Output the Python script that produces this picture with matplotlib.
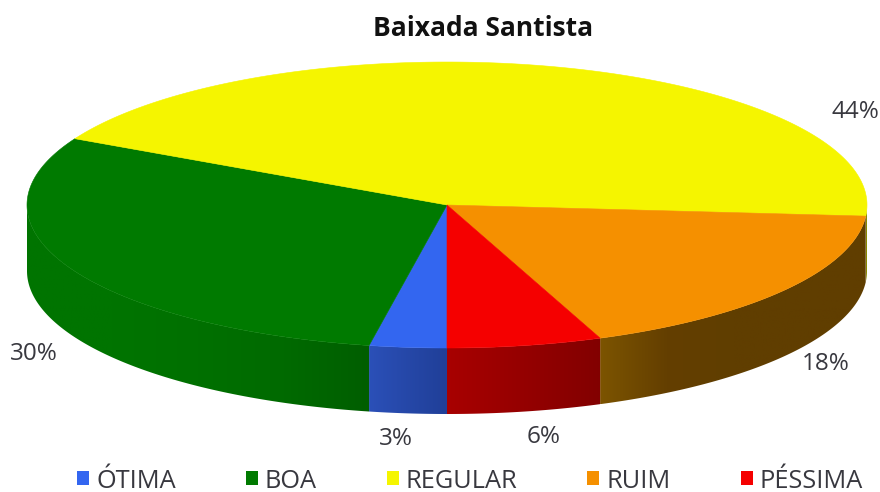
import numpy as np
import matplotlib
matplotlib.use('Agg')
import matplotlib.pyplot as plt
from matplotlib.colors import LinearSegmentedColormap
from matplotlib.patches import Patch, Polygon

# Dados do gráfico
categorias = ["ÓTIMA", "BOA", "REGULAR", "RUIM", "PÉSSIMA"]
percentuais = [3, 30, 44, 18, 6]

# Cores: topo e lateral (da esquerda para a direita)
cores_topo = ["#3366F0", "#007A00", "#F5F500", "#F59000", "#F50000"]
cores_lateral = [
    ["#2B50B8", "#203F98"],
    ["#007400", "#007400", "#007000", "#006A00", "#005E00"],
    ["#8A8A00", "#8A8A00"],
    ["#7C5400", "#643F00", "#603E00", "#603E00", "#603E00"],
    ["#A80000", "#820000"],
]

# Posição dos rótulos de porcentagem, na ordem das categorias
pos_rotulos = [(396, 439), (34, 354), (855, 112), (826, 364), (544, 437)]

# Geometria da pizza em pixels
cx, cy = 447, 205
rx, ry = 420, 143
prof = 66

plt.rcParams['font.family'] = 'Open Sans'
fig = plt.figure(figsize=(8.8, 4.92), dpi=100)
ax = fig.add_axes([0, 0, 1, 1])
ax.axis('off')


def borda(theta):
    # theta em graus, a partir da base, no sentido horário
    t = np.radians(theta)
    return cx - rx * np.sin(t), cy + ry * np.cos(t)


fracoes = np.array(percentuais) / sum(percentuais) * 360
limites = np.concatenate([[0], np.cumsum(fracoes)])

# Lateral: só a metade da frente aparece, com degradê recortado na forma da fatia
for i in range(len(categorias)):
    ini, fim = limites[i], limites[i + 1]
    for a, b in [(ini, min(fim, 90)), (max(ini, 270), fim)]:
        if b <= a:
            continue
        th = np.linspace(a, b, 120)
        xs, ys = borda(th)
        contorno = np.column_stack([np.r_[xs, xs[::-1]], np.r_[ys, ys[::-1] + prof]])
        forma = Polygon(contorno, facecolor='none', edgecolor='none', transform=ax.transData)
        ax.add_patch(forma)
        mapa = LinearSegmentedColormap.from_list(f"lat{i}", cores_lateral[i])
        img = ax.imshow(np.linspace(0, 1, 256)[None, :], cmap=mapa, aspect='auto',
                        extent=(xs.min(), xs.max(), ys.max() + prof, ys.min()), zorder=1)
        img.set_clip_path(forma)

# Topo
for i in range(len(categorias)):
    th = np.linspace(limites[i], limites[i + 1], 200)
    xs, ys = borda(th)
    pontos = np.column_stack([np.r_[cx, xs], np.r_[cy, ys]])
    ax.add_patch(Polygon(pontos, facecolor=cores_topo[i], edgecolor=cores_topo[i],
                         linewidth=0.4, zorder=2))

ax.set_xlim(0, 880)
ax.set_ylim(492, 0)

ax.text(483, 28, "Baixada Santista", fontsize=19, fontweight='bold', color='#111111',
        ha='center', va='center')

for i, (x, y) in enumerate(pos_rotulos):
    ax.text(x, y, f"{percentuais[i]}%", fontsize=17.5, color='#38383F', ha='center', va='center')

# Legenda
alcas = [Patch(facecolor=c, edgecolor='none') for c in cores_topo]
ax.legend(alcas, categorias, loc='center', bbox_to_anchor=(470 / 880, 1 - 481 / 492), ncol=5,
          frameon=False, fontsize=18.3, handlelength=0.47, handleheight=0.47, handletextpad=0.28,
          columnspacing=2.75, labelcolor='#38383F', borderpad=0)

plt.savefig('out.png', dpi=100)
plt.close()
